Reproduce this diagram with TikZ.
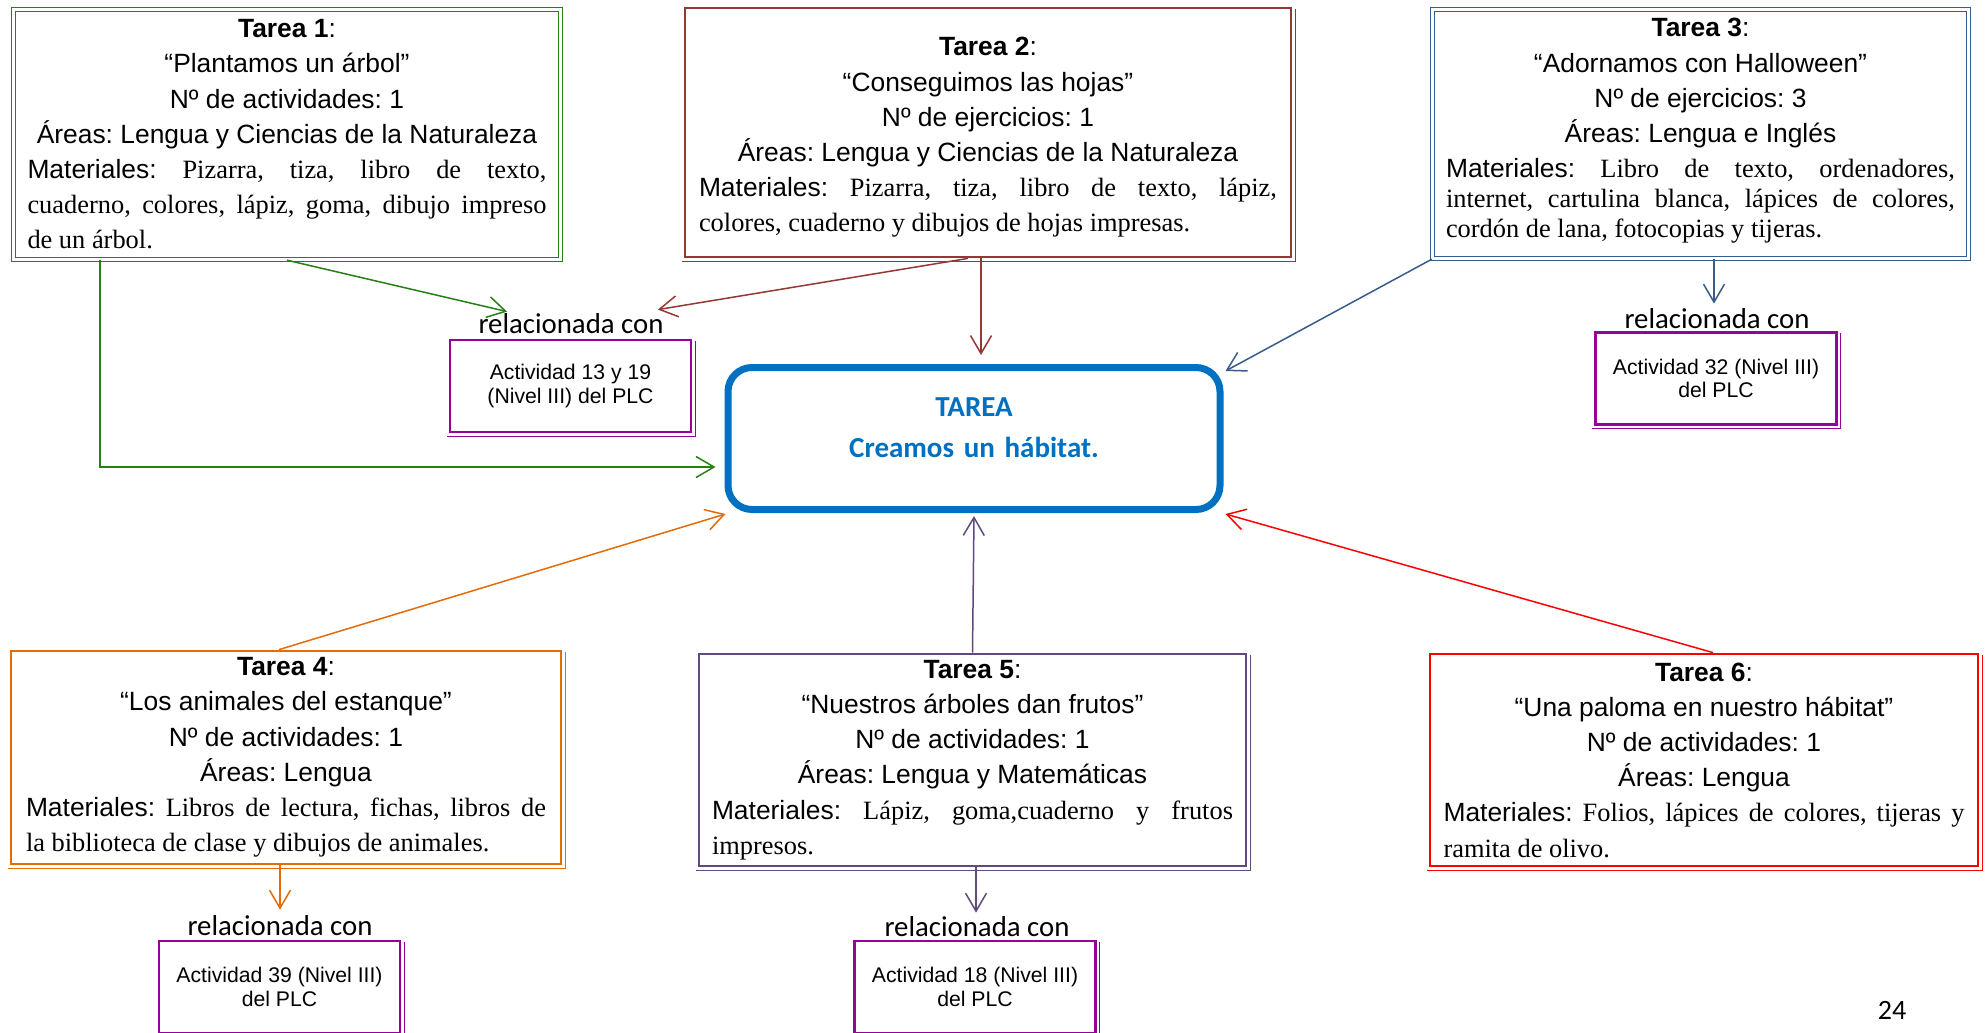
\documentclass[tikz,border=0pt]{standalone}
\usepackage{fontspec}
\setmainfont{Liberation Serif}
\newfontfamily\arial{Liberation Sans}
\newfontfamily\calibri{Carlito}
\usetikzlibrary{arrows.meta,calc}
\setlength{\parindent}{0pt}
\frenchspacing
\definecolor{cgreen}{RGB}{38,128,20}
\definecolor{cbrown}{RGB}{149,55,53}
\definecolor{cblue}{RGB}{56,93,138}
\definecolor{corange}{RGB}{227,108,9}
\definecolor{cviolet}{RGB}{96,74,123}
\definecolor{cred}{RGB}{255,0,0}
\definecolor{cmag}{RGB}{153,0,153}
\definecolor{ctarea}{RGB}{0,112,192}
\newcommand\bodyfont{\fontsize{13.2}{17.6}\selectfont\frenchspacing\hyphenpenalty=10000\tolerance=9999}
\newcommand\botpad[1]{\par\vspace{#1}\nointerlineskip\hbox{}}
\newcommand\shadowof[2]{\draw[line width=0.5pt,#2] ([shift={(3,2)}]#1.north east) -- ([shift={(3,3)}]#1.south east) -- ([shift={(-2,3)}]#1.south west);}
\begin{document}
\begin{tikzpicture}[x=0.5pt,y=-0.5pt,
 conn/.style={line width=0.75pt,-{Straight Barb[length=9pt,width=10.5pt]}},
 taskbox/.style={rectangle, inner xsep=0pt, inner ysep=0pt, font=\bodyfont, text=black, align=justify},
 dbl/.style={line width=0.7pt, double=white, double distance=1.1pt},
 thk/.style={line width=1.4pt},
 relbox/.style={rectangle, draw=cmag, line width=1.4pt, minimum width=120.5pt, minimum height=46pt, inner sep=0pt, align=center, font=\arial\fontsize{10.6}{11.8}\selectfont},
 lab/.style={font=\calibri\fontsize{14.4}{16}\selectfont, inner sep=0pt, anchor=base}
]
\useasboundingbox (0,0) rectangle (1988,1033);
\fill[white] (0,0) rectangle (1988,1033);
\clip (0,0) rectangle (1988,1033);

% ---------- task boxes ----------
\node[taskbox, draw=cgreen, dbl, minimum width=273.5pt, minimum height=125pt, text width=259.5pt] (b1) at (287,134.5) {%
{\centering\arial \textbf{Tarea 1}:\\“Plantamos un árbol”\\Nº de actividades: 1\\Áreas: Lengua y Ciencias de la Naturaleza\par}
{\arial Materiales:} Pizarra, tiza, libro de texto,\linebreak cuaderno, colores, lápiz, goma, dibujo impreso\linebreak de un árbol.};

\node[taskbox, draw=cbrown, thk, minimum width=303pt, minimum height=124.5pt, text width=289pt] (b2) at (988,132.5) {%
{\centering\arial \textbf{Tarea 2}:\\“Conseguimos las hojas”\\Nº de ejercicios: 1\\Áreas: Lengua y Ciencias de la Naturaleza\par}
{\arial Materiales:} Pizarra, tiza, libro de texto, lápiz,\linebreak colores, cuaderno y dibujos de hojas impresas.\botpad{-5pt}};
\shadowof{b2}{cbrown}

\node[taskbox, draw=cblue, dbl, minimum width=268pt, minimum height=124.5pt, text width=254.5pt] (b3) at (1700.5,134) {%
{\centering\arial \textbf{Tarea 3}:\\“Adornamos con Halloween”\\Nº de ejercicios: 3\\Áreas: Lengua e Inglés\par}
\vspace{2.6pt}
{\fontsize{13.2}{15}\selectfont {\arial Materiales:} Libro de texto, ordenadores,\linebreak internet, cartulina blanca, lápices de colores,\linebreak cordón de lana, fotocopias y tijeras.\par}
\botpad{3pt}};

\node[taskbox, draw=corange, thk, minimum width=275pt, minimum height=106.5pt, text width=260pt] (b4) at (286,757.5) {%
{\centering\arial \textbf{Tarea 4}:\\“Los animales del estanque”\\Nº de actividades: 1\\Áreas: Lengua\par}
{\arial Materiales:} Libros de lectura, fichas, libros de\linebreak la biblioteca de clase y dibujos de animales.};
\shadowof{b4}{corange}

\node[taskbox, draw=cviolet, thk, minimum width=273.5pt, minimum height=106pt, text width=260.5pt] (b5) at (972.5,760) {%
{\centering\arial \textbf{Tarea 5}:\\“Nuestros árboles dan frutos”\\Nº de actividades: 1\\Áreas: Lengua y Matemáticas\par}
{\arial Materiales:} Lápiz, goma,cuaderno y frutos\linebreak impresos.};
\shadowof{b5}{cviolet}

\node[taskbox, draw=cred, thk, minimum width=274pt, minimum height=106pt, text width=260.5pt] (b6) at (1704,760) {%
{\centering\arial \textbf{Tarea 6}:\\“Una paloma en nuestro hábitat”\\Nº de actividades: 1\\Áreas: Lengua\par}
{\arial Materiales:} Folios, lápices de colores, tijeras y\linebreak ramita de olivo.};
\shadowof{b6}{cred}

% ---------- central node ----------
\node[draw=ctarea, line width=3.5pt, rounded corners=12pt, minimum width=246pt, minimum height=71pt, inner sep=0pt, text width=200pt, align=center, text=ctarea, font=\calibri\bfseries\fontsize{14.5}{20.5}\selectfont] (T) at (974,438.5) {TAREA\\Creamos un hábitat.\botpad{11pt}};

% ---------- related-activity labels and boxes ----------
\node[lab] (r1) at (571,333) {relacionada con};
\node[lab] (r3) at (1717,328) {relacionada con};
\node[lab] (r4) at (280,935) {relacionada con};
\node[lab] (r5) at (977,936) {relacionada con};

\node[relbox] (a1) at (570.5,386) {Actividad 13 y 19\\(Nivel III) del PLC};
\shadowof{a1}{cmag}
\node[relbox] (a3) at (1716,378.5) {Actividad 32 (Nivel III)\\del PLC};
\shadowof{a3}{cmag}
\node[relbox] (a4) at (279.5,987) {Actividad 39 (Nivel III)\\del PLC};
\shadowof{a4}{cmag}
\node[relbox] (a5) at (975,987) {Actividad 18 (Nivel III)\\del PLC};
\shadowof{a5}{cmag}

\node[font=\calibri\fontsize{14}{16}\selectfont, inner sep=0pt] (pg) at (1892,1010) {24};

% ---------- connectors ----------
\coordinate (e1g) at ($(r1.north west)+(29,-1)$);
\coordinate (e1b) at ($(r1.north east)+(-6,-3)$);
\coordinate (t2) at ($(T.north)+(7,-9)$);
\coordinate (e3) at ($(r3.north)+(-3,-4)$);
\coordinate (e4) at ($(r4.north)+(0,-5)$);
\coordinate (e5) at ($(r5.north)+(-1,-3)$);
\coordinate (tg) at ($(T.west)+(-9,28.5)$);

\draw[conn, draw=cgreen] (b1.south) -- (e1g);
\draw[conn, draw=cgreen] ([shift={(87,0)}]b1.south west) |- (tg);
\draw[conn, draw=cbrown] ([shift={(-20,0)}]b2.south) -- (e1b);
\draw[conn, draw=cbrown] (t2 |- b2.south) -- (t2);
\draw[conn, draw=cblue] (b3.south west) -- ($(T.north east)+(2,7)$);
\draw[conn, draw=cblue] (e3 |- b3.south) -- (e3);
\draw[conn, draw=corange] ([shift={(-7,0)}]b4.north) -- ($(T.south west)+(1,1)$);
\draw[conn, draw=corange] (e4 |- b4.south) -- (e4);
\draw[conn, draw=cviolet] (b5.north) -- ($(T.south)+(0,3)$);
\draw[conn, draw=cviolet] (e5 |- b5.south) -- (e5);
\draw[conn, draw=cred] ([shift={(9,0)}]b6.north) -- ($(T.south east)+(2,1)$);
\end{tikzpicture}
\end{document}
